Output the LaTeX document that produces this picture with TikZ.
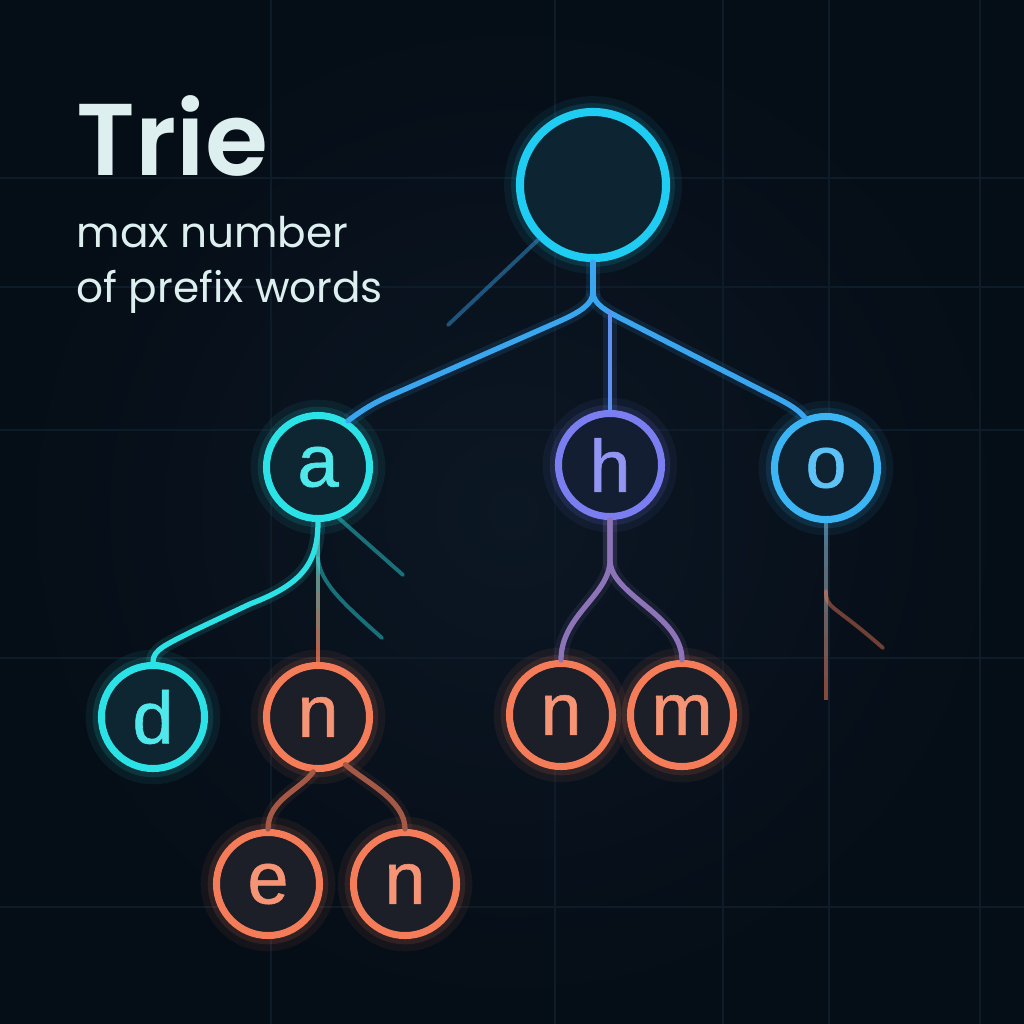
\documentclass[tikz,border=0pt]{standalone}
\usepackage{fontspec}
\setmainfont{Poppins}
\newfontfamily\titlefont{Poppins SemiBold}
\newfontfamily\letterfont{Liberation Sans}[FakeBold=0.8]
\usetikzlibrary{calc}
\definecolor{trbg}{HTML}{0C1724}
\definecolor{trbgedge}{HTML}{050D16}
\definecolor{trgrid}{HTML}{0E1B28}
\definecolor{trtext}{HTML}{DDEFEF}
\definecolor{trroot}{HTML}{1FCCF2}
\definecolor{trcyan}{HTML}{2BE3E6}
\definecolor{trviolet}{HTML}{7B7EF0}
\definecolor{trblue}{HTML}{3BB5F3}
\definecolor{trcoral}{HTML}{F47C58}
\definecolor{trlink}{HTML}{3AA6F0}
\definecolor{trmauve}{HTML}{9C6C8A}

\tikzset{
  trienode/.style={circle, draw=#1, line width=2pt, minimum size=1.03cm, inner sep=0pt,
    fill=#1!7!trbg, text=#1!82!white, font=\letterfont\fontsize{21}{21}\selectfont,
    preaction={draw=#1, line width=9pt, draw opacity=0.07},
    preaction={draw=#1, line width=5pt, draw opacity=0.12}},
  trielink/.style={draw=#1, line width=1.5pt, line cap=round,
    preaction={draw=#1, line width=4pt, draw opacity=0.12}},
  triefaint/.style={draw=#1, line width=1.1pt, line cap=round, draw opacity=0.45},
  trietext/.style={anchor=base west, inner sep=0pt, text=trtext},
}

% a straight connector that fades from one colour into another
\newcommand\fadelink[4]{%
  \foreach \k in {0,...,7} {
    \pgfmathsetmacro\kfrom{\k/8}
    \pgfmathsetmacro\kto{(\k+1)/8}
    \pgfmathtruncatemacro\kmix{100-100*\k/7}
    \draw[draw=#3!\kmix!#4, line width=1.3pt, draw opacity=0.75]
      ($(#1)!\kfrom!(#2)$) -- ($(#1)!\kto!(#2)$);
  }}

\begin{document}
\begin{tikzpicture}[x=0.01cm, y=-0.01cm]
  \useasboundingbox (0,0) rectangle (1024,1024);
  \shade[inner color=trbg, outer color=trbgedge] (0,0) rectangle (1024,1024);
  \foreach \gx in {271,555,723,829,980}
    \draw[trgrid, line width=0.4pt] (\gx,0) -- (\gx,1024);
  \foreach \gy in {178,287,430,658,907}
    \draw[trgrid, line width=0.4pt] (0,\gy) -- (1024,\gy);

  % heading
  \node[trietext, font=\titlefont\fontsize{29}{29}\selectfont] (title) at (76,175) {Trie};
  \node[trietext, font=\fontsize{12}{15}\selectfont] (subtitle) at (76,247) {max number};
  \node[trietext, font=\fontsize{12}{15}\selectfont] (subtitle2) at (76,302) {of prefix words};

  % nodes
  \node[trienode=trroot, minimum size=1.46cm, line width=2.3pt] (root) at (593,185) {};
  \node[trienode=trcyan] (a) at (318,467) {a};
  \node[trienode=trviolet] (h) at (610,465) {h};
  \node[trienode=trblue] (o) at (826,468) {o};
  \node[trienode=trcyan] (d) at (153,717) {d};
  \node[trienode=trcoral] (n1) at (318,717) {n};
  \node[trienode=trcoral] (n2) at (561,715) {n};
  \node[trienode=trcoral] (m) at (682,715) {m};
  \node[trienode=trcoral] (e) at (268,884) {e};
  \node[trienode=trcoral] (n3) at (405,884) {n};

  % root branches
  \coordinate (rsplit) at (593,292);
  \coordinate (hjoin) at (610,312);
  \coordinate (rtail) at (448,325);
  \draw[trielink=trlink] (root.south) -- (rsplit);
  \draw[trielink=trlink] (rsplit) .. controls (593,304) and (580,312) .. (560,321)
    -- (385,398) .. controls (368,406) and (357,414) .. (a.57);
  \draw[trielink=trlink] (rsplit) .. controls (593,304) and (606,311) .. (626,321)
    -- (765,392) .. controls (785,402) and (797,408) .. (o.113);
  \draw[trielink=trviolet!55!trlink, line width=1.2pt] (hjoin) -- (h.north);
  \draw[triefaint=trlink] (root.225) -- (rtail);

  % below a
  \coordinate (atail1) at (403,575);
  \coordinate (atail2) at (382,638);
  \draw[trielink=trcyan] (a.south) .. controls (318,565) and (300,585) .. (250,604)
    -- (195,630) .. controls (165,645) and (153,650) .. (d.north);
  \fadelink{a.south}{n1.north}{trcyan}{trcoral}
  \draw[triefaint=trcyan] (a.-68) -- (atail1);
  \draw[triefaint=trcyan] ($(a.south)+(0,36)$) .. controls +(2,25) and (345,605) .. (atail2);

  % below h
  \draw[trielink=trviolet!45!trmauve] (h.south) -- ++(0,40)
    .. controls +(0,35) and (561,615) .. (n2.north);
  \draw[trielink=trviolet!45!trmauve] (h.south) -- ++(0,40)
    .. controls +(0,35) and (682,615) .. (m.north);

  % below o
  \coordinate (otail) at (826,700);
  \coordinate (obranch) at (883,648);
  \fadelink{o.south}{otail}{trblue!60!white}{trcoral!70!trbg}
  \draw[triefaint=trcoral] ($(o.south)+(0,68)$) .. controls +(0,18) and (832,603) .. (obranch);

  % below n
  \draw[trielink=trcoral!65!trbg] (n1.-95) .. controls (300,790) and (268,800) .. (e.north);
  \draw[trielink=trcoral!65!trbg] (n1.-60) .. controls (365,782) and (405,800) .. (n3.north);
\end{tikzpicture}
\end{document}
